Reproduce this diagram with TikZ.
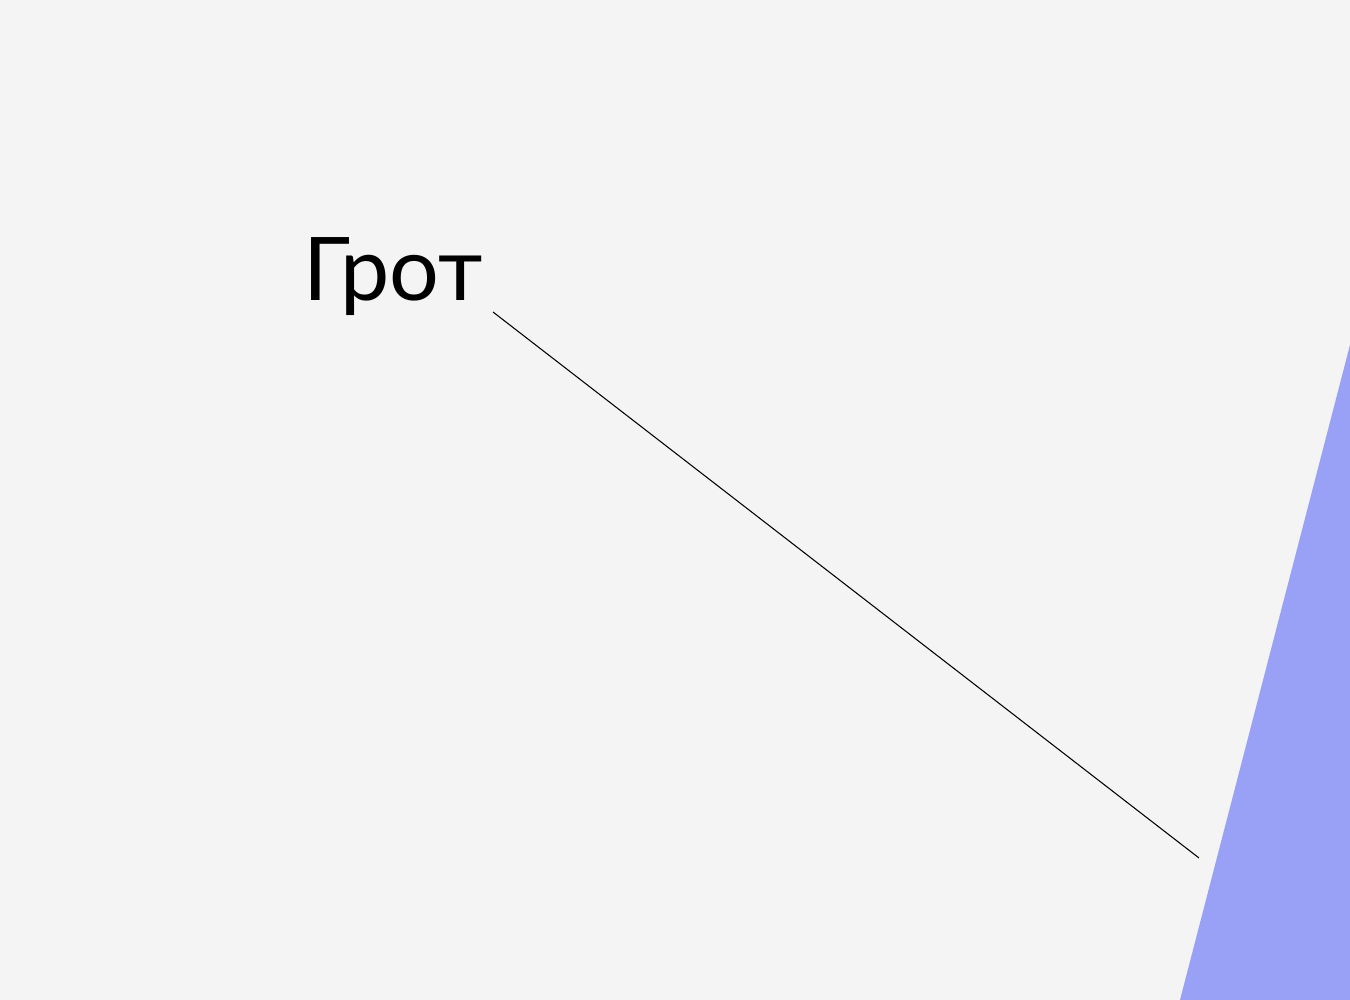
\documentclass[tikz,border=0pt]{standalone}
\usepackage{fontspec}
\setmainfont{Lato}
\usetikzlibrary{positioning,calc}
\definecolor{backdrop}{RGB}{243,244,243}
\definecolor{sail}{RGB}{152,161,245}
\tikzstyle{sailname}=[anchor=base west, inner sep=0pt, text=black, font=\fontsize{25}{30}\selectfont]
\tikzstyle{pointer}=[line width=.3pt, color=black]
\tikzset{y=-1cm}
\tikzset{x=1cm}

\begin{document}
\begin{tikzpicture}
  \fill[backdrop] (0,0) rectangle (13.5,10);
  \useasboundingbox (0,0) rectangle (13.5,10);
  %% the sail
  \fill[sail] (13.5,3.45) -- (11.8,10) -- (13.5,10) -- cycle;
  \draw (3.03,3.01) node[sailname] (grot) {Грот};
  \coordinate (grotend) at (4.93,3.12);
  \coordinate (sailtip) at (11.99,8.58);
  \draw[pointer] (grotend) -- (sailtip);
\end{tikzpicture}
\end{document}
